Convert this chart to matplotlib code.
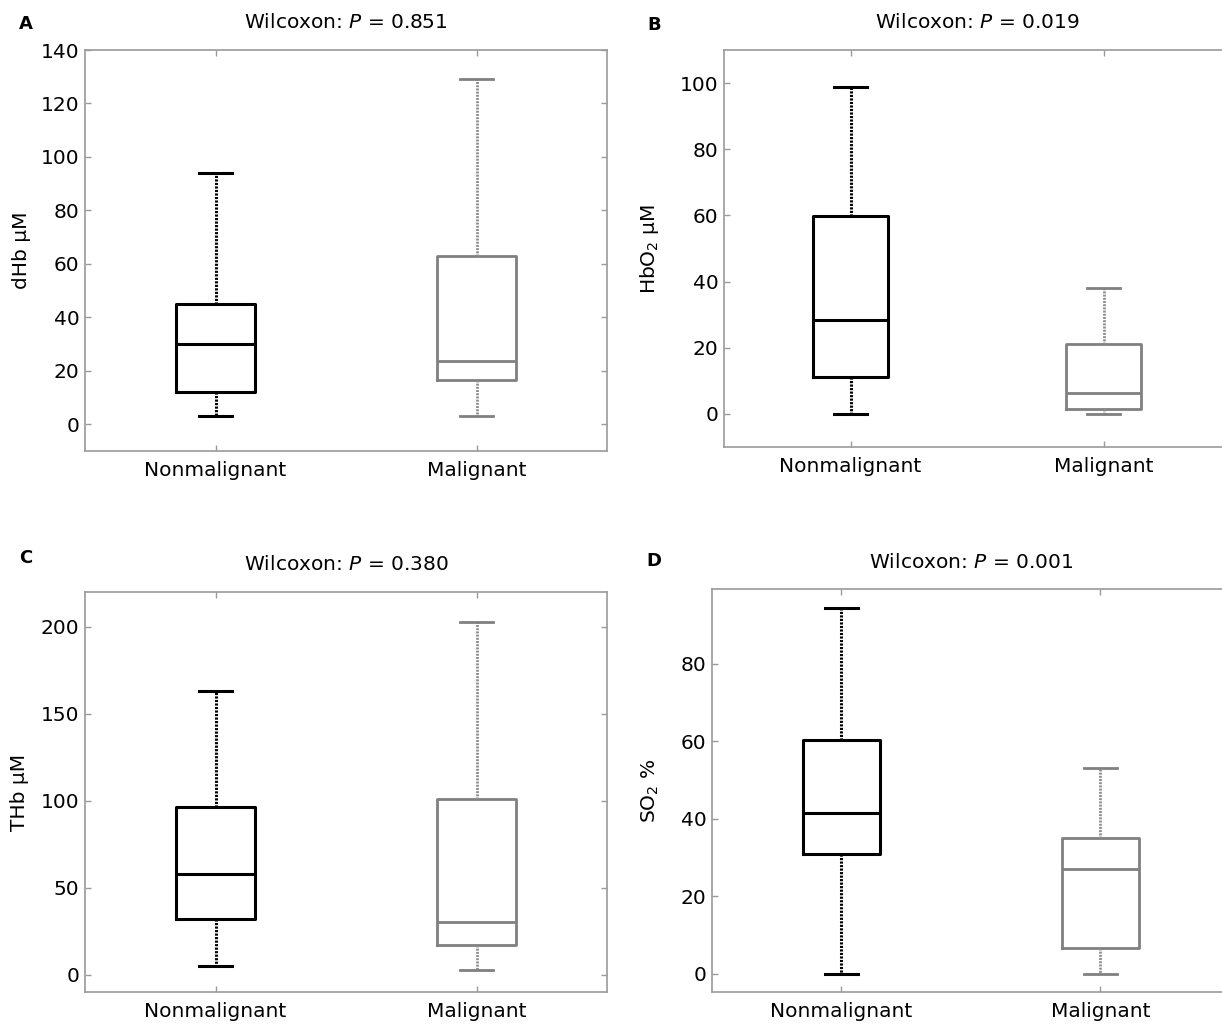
import matplotlib
matplotlib.use("Agg")
import matplotlib.pyplot as plt

plt.rcParams['font.family'] = ['DejaVu Sans']
plt.rcParams['mathtext.fontset'] = 'dejavusans'

groups = ["Nonmalignant", "Malignant"]
panel_letters = ["A", "B", "C", "D"]
titles = [r"Wilcoxon: $P$ = 0.851", r"Wilcoxon: $P$ = 0.019",
          r"Wilcoxon: $P$ = 0.380", r"Wilcoxon: $P$ = 0.001"]
ylabels = ["dHb μM", r"HbO$_2$ μM", "THb μM", r"SO$_2$ %"]

# [whislo, q1, median, q3, whishi] per group
dhb_nonmal = [3, 12, 30, 45, 94]
dhb_mal = [3, 16.7, 23.8, 62.9, 129]
hbo2_nonmal = [0, 11.3, 28.4, 59.9, 98.9]
hbo2_mal = [0, 1.4, 6.4, 21, 38]
thb_nonmal = [4.8, 32, 57.9, 96.2, 162.8]
thb_mal = [2.5, 17.2, 30, 101, 202.5]
so2_nonmal = [0, 30.9, 41.5, 60.3, 94.5]
so2_mal = [0, 6.6, 27.1, 35.1, 53.1]

panel_data = [(dhb_nonmal, dhb_mal), (hbo2_nonmal, hbo2_mal),
              (thb_nonmal, thb_mal), (so2_nonmal, so2_mal)]
ylims = [(-10, 140), (-10, 110), (-10, 220), (-4.7, 99.3)]
yticks = [list(range(0, 141, 20)), list(range(0, 101, 20)),
          list(range(0, 201, 50)), list(range(0, 81, 20))]

W, H = 1222, 1024
# axes rectangles in pixels: left, right, top, bottom
rects_px = [(85, 607, 50, 451), (724, 1230, 50, 447),
            (85, 607, 592, 992), (712, 1230, 589, 992)]
letter_px = [(26, 24), (654, 25), (26, 558), (654, 561)]
title_y = [23, 23, 565, 563]
ylabel_px = [22, 652, 20, 652]

colors = ["black", "#808080"]
box_lw = [2.2, 2.0]
wh_lw = [2.2, 2.0]
wh_col = ["black", "#8c8c8c"]
spine_col = "#9a9a9a"
fs = 14.5

fig = plt.figure(figsize=(W / 100, H / 100), dpi=100)

for i in range(4):
    l, r, t, b = rects_px[i]
    ax = fig.add_axes([l / W, 1 - b / H, (r - l) / W, (b - t) / H])
    for j, vals in enumerate(panel_data[i]):
        st = dict(whislo=vals[0], q1=vals[1], med=vals[2], q3=vals[3],
                  whishi=vals[4], fliers=[], label=groups[j])
        c = colors[j]
        ax.bxp([st], positions=[j + 1], widths=0.3, capwidths=0.13,
               showfliers=False, manage_ticks=False,
               boxprops=dict(color=c, linewidth=box_lw[j]),
               medianprops=dict(color=c, linewidth=box_lw[j]),
               whiskerprops=dict(color=wh_col[j], linewidth=wh_lw[j], linestyle=(0, (0.7, 0.45))),
               capprops=dict(color=c, linewidth=box_lw[j]))
    ax.set_xlim(0.5, 2.5)
    ax.set_ylim(*ylims[i])
    ax.set_xticks([1, 2])
    ax.set_xticklabels(groups)
    ax.set_yticks(yticks[i])
    ax.tick_params(direction="in", length=4, width=1, color=spine_col,
                   labelsize=fs, top=True, right=True)
    ax.tick_params(axis="x", pad=7)
    ax.tick_params(axis="y", pad=4)
    for sp in ax.spines.values():
        sp.set_color(spine_col)
        sp.set_linewidth(1.2)
    ax.set_ylabel(ylabels[i], fontsize=fs)
    xoff = (ylabel_px[i] + 9 - l) / (r - l)
    ax.yaxis.set_label_coords(xoff, 0.5)
    fig.text((l + r) / 2 / W, 1 - title_y[i] / H,
             titles[i], fontsize=fs, ha="center", va="center")
    fig.text(letter_px[i][0] / W, 1 - letter_px[i][1] / H, panel_letters[i],
             fontsize=13, fontweight="bold", ha="center", va="center")

fig.savefig("out.png", dpi=100)
